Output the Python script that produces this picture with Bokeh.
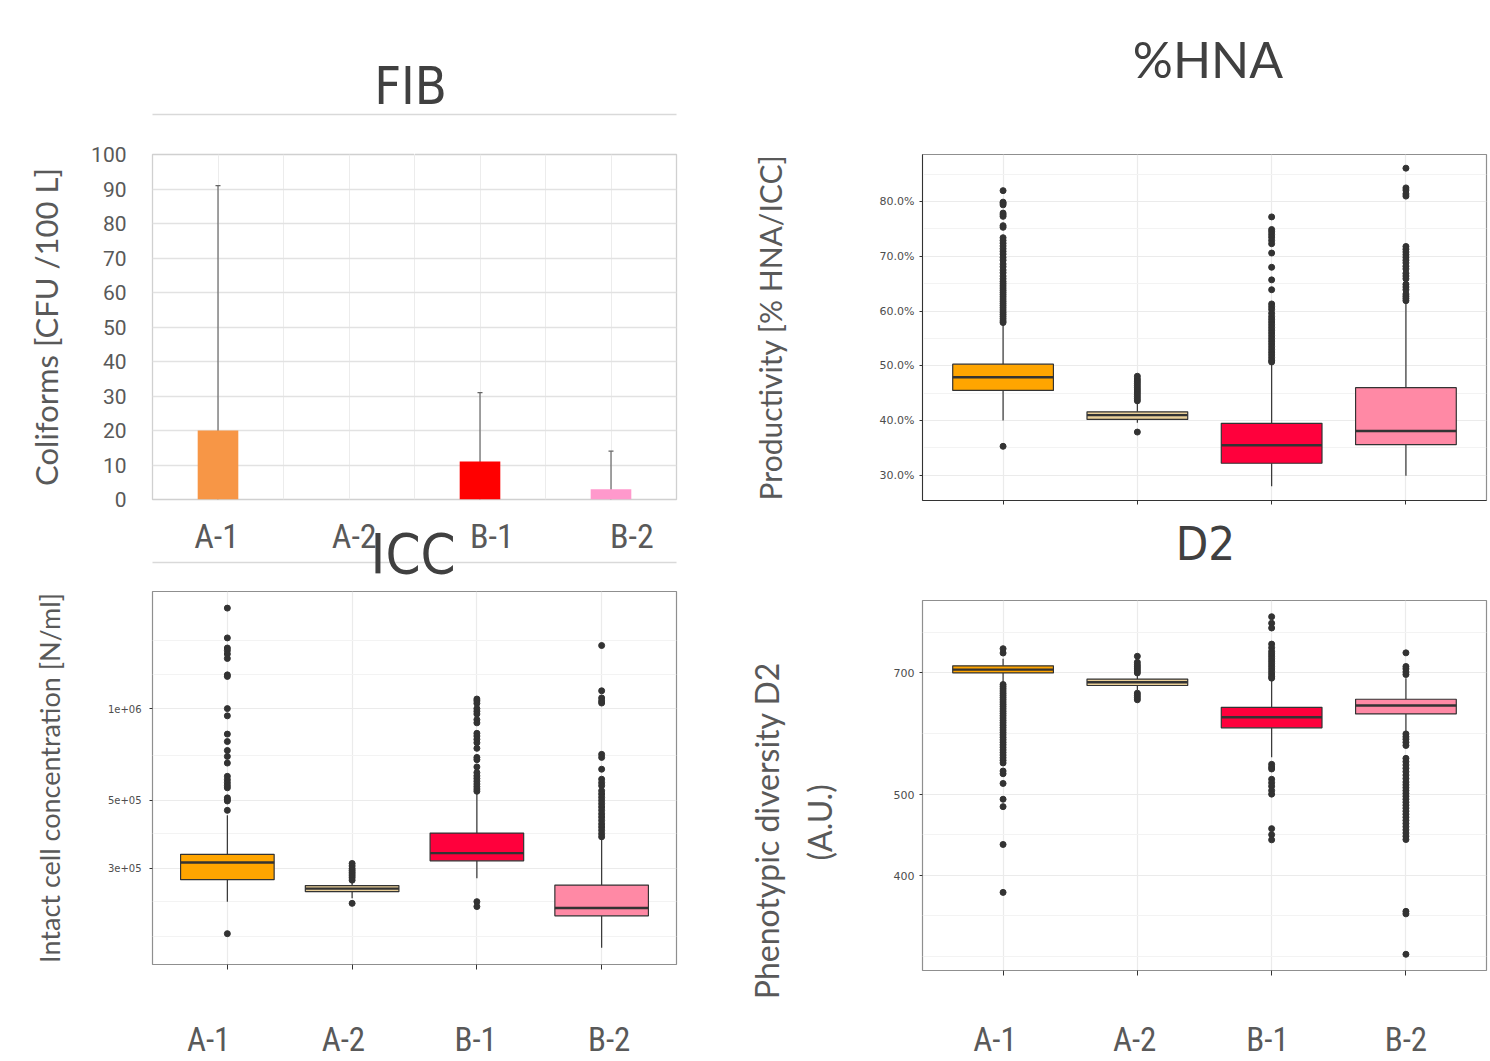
from bokeh.plotting import figure
from bokeh.models import (Range1d, FixedTicker, Whisker, TeeHead, PrintfTickFormatter,
                          ColumnDataSource, LinearAxis, CustomJSTickFormatter)
from bokeh.layouts import row, column
from bokeh.embed import file_html
from bokeh.resources import INLINE

# ---------------- data ----------------
CATS = ["A-1", "A-2", "B-1", "B-2"]

FIB_MEAN = [20, 0, 11, 3]
FIB_UPPER = [91, 0, 31, 14]
FIB_TICKS = [0, 10, 20, 30, 40, 50, 60, 70, 80, 90, 100]
FIB_COLORS = ["#F79646", "#F79646", "#FF0000", "#FF99CC"]

BOX_COLORS = ["#FFA500", "#E9CF98", "#FF003C", "#FF89A5"]

HNA_LOW = [40.0, 39.6, 28.0, 29.9]
HNA_Q1 = [45.5, 40.2, 32.2, 35.6]
HNA_MED = [47.9, 41.0, 35.5, 38.1]
HNA_Q3 = [50.3, 41.6, 39.5, 46.0]
HNA_HIGH = [57.5, 43.3, 50.4, 61.5]
HNA_OUT = [
    [82.0, 79.9, 79.7, 79.4, 77.9, 77.6, 77.3, 75.6, 75.3, 73.4, 72.9, 72.4, 71.9, 71.4, 70.9,
     70.4, 69.8, 69.3, 68.6, 68.1, 67.5, 67.0, 66.4, 65.9, 65.4, 65.0, 64.6, 64.2, 63.8, 63.4,
     63.0, 62.6, 62.2, 61.8, 61.4, 61.0, 60.6, 60.2, 59.8, 59.4, 59.0, 58.6, 58.2, 57.9, 35.3],
    [48.1, 47.6, 47.2, 46.8, 46.4, 46.0, 45.6, 45.2, 44.8, 44.4, 44.0, 43.6, 37.9],
    [77.2, 74.9, 74.5, 74.0, 73.5, 72.9, 72.3, 70.6, 68.0, 65.7, 63.9, 61.3, 60.8, 60.3, 59.6,
     59.0, 58.5, 58.0, 57.5, 57.0, 56.5, 56.0, 55.5, 55.0, 54.5, 54.0, 53.5, 53.0, 52.5, 52.0,
     51.5, 51.0, 50.7],
    [86.1, 82.5, 82.1, 81.4, 81.0, 71.8, 71.3, 70.8, 70.3, 69.8, 69.3, 68.8, 68.2, 67.7, 66.9,
     66.4, 65.9, 64.9, 64.4, 63.9, 63.1, 62.7, 62.3, 61.9],
]
HNA_TICKS = [30, 40, 50, 60, 70, 80]
HNA_MINOR = [25, 35, 45, 55, 65, 75, 85]

ICC_LOW = [2.33e5, 2.39e5, 2.78e5, 1.644e5]
ICC_Q1 = [2.75e5, 2.513e5, 3.17e5, 2.094e5]
ICC_MED = [3.13e5, 2.57e5, 3.36e5, 2.22e5]
ICC_Q3 = [3.33e5, 2.63e5, 3.91e5, 2.64e5]
ICC_HIGH = [4.47e5, 2.70e5, 5.30e5, 3.75e5]
ICC_OUT = [
    [2.135e6, 1.705e6, 1.58e6, 1.55e6, 1.51e6, 1.46e6, 1.29e6, 1.275e6, 1.0e6, 9.47e5, 8.25e5,
     7.8e5, 7.29e5, 6.97e5, 6.63e5, 6.0e5, 5.85e5, 5.72e5, 5.6e5, 5.5e5, 5.1e5, 5.04e5, 4.98e5,
     4.64e5, 1.83e5],
    [3.108e5, 3.05e5, 2.99e5, 2.95e5, 2.91e5, 2.87e5, 2.83e5, 2.79e5, 2.74e5, 2.30e5],
    [1.075e6, 1.06e6, 1.04e6, 1.0e6, 9.8e5, 9.6e5, 9.2e5, 8.98e5, 8.3e5, 8.13e5, 7.93e5, 7.73e5,
     7.41e5, 6.92e5, 6.8e5, 6.44e5, 6.17e5, 6.02e5, 5.9e5, 5.78e5, 5.66e5, 5.55e5, 5.45e5,
     5.36e5, 2.33e5, 2.245e5],
    [1.61e6, 1.144e6, 1.084e6, 1.06e6, 1.043e6, 7.08e5, 6.92e5, 6.33e5, 5.87e5, 5.72e5, 5.59e5,
     5.38e5, 5.25e5, 5.12e5, 5.0e5, 4.88e5, 4.76e5, 4.64e5, 4.52e5, 4.41e5, 4.30e5, 4.19e5,
     4.09e5, 3.99e5, 3.89e5, 3.80e5],
]
ICC_TICKS = [3e5, 5e5, 1e6]
ICC_TICK_LABELS = ["3e+05", "5e+05", "1e+06"]
ICC_MINOR = [1.79e5, 2.33e5, 3.886e5, 7.04e5, 1.295e6, 1.678e6]

D2_LOW = [681, 668, 554.6, 592.8]
D2_Q1 = [700, 676.2, 601.6, 625.2]
D2_MED = [706.5, 682.3, 619.5, 640]
D2_Q3 = [714, 688.3, 636.6, 651]
D2_HIGH = [728, 695, 687, 690]
D2_OUT = [
    [748.5, 739.6, 678, 674, 670, 666, 662, 658, 654, 650, 646, 642, 638, 634, 630, 626, 622,
     618, 614, 610, 606, 602, 598, 594, 590, 586, 582, 578, 574, 570, 566, 562, 558, 554, 550,
     546, 534, 530, 516, 494, 484, 436, 382],
    [733, 721, 716, 712, 708, 704, 700, 662, 658, 654, 650],
    [817.6, 803, 792.5, 758, 750.6, 743, 738, 733, 728, 723, 718, 713, 708, 703, 698, 693, 690,
     544, 540, 537, 522, 517, 512, 506, 501, 455.5, 448, 441.6],
    [740, 712.6, 708, 702, 697, 591.6, 587, 583, 578, 573, 553, 548, 543, 538, 533, 528, 523,
     518, 514, 510, 506, 502, 498, 494, 490, 486, 482, 478, 474, 470, 466, 462, 458, 454, 450,
     446, 442, 362.5, 360, 322],
]
D2_TICKS = [400, 500, 700]
D2_TICK_LABELS = ["400", "500", "700"]
D2_MINOR = [320.3, 358.3, 448, 591.6, 783]

# label offsets of the category names (in category units)
FIB_LABEL_SHIFT = [-0.01, 0.04, 0.09, 0.16]
ICC_LABEL_SHIFT = [-0.15, -0.07, -0.01, 0.06]
D2_LABEL_SHIFT = [-0.06, -0.02, -0.03, 0.0]

# ---------------- style ----------------
CAT_FONT = "Roboto Condensed"
HEAD_FONT = "DejaVu Sans Condensed"
LAB = "Lato"
TICKF = "DejaVu Sans"
INK = "#333333"
GREY_TXT = "#595959"
TITLE_C = "#404040"
NB = "\u00a0"

XS = list(range(1, len(CATS) + 1))


def base_fig(w, h, mb, xr, yr, ytype="linear"):
    p = figure(width=w, height=h, x_range=xr, y_range=yr, y_axis_type=ytype,
               output_backend="svg", toolbar_location=None,
               min_border_left=mb[0], min_border_right=mb[1],
               min_border_top=mb[2], min_border_bottom=mb[3])
    p.background_fill_color = "white"
    p.border_fill_color = "white"
    return p


def label_formatter(shifts):
    return CustomJSTickFormatter(args=dict(labels=CATS, shifts=shifts), code="""
        for (let i = 0; i < labels.length; i++) {
            if (Math.abs(tick - (i + 1 + shifts[i])) < 1e-6) { return labels[i]; }
        }
        return "";
    """)


def no_ticks(ax):
    ax.major_tick_in = 0
    ax.minor_tick_out = 0
    ax.minor_tick_in = 0


def hide_labels(ax, standoff=0):
    ax.formatter = CustomJSTickFormatter(code="return '';")
    ax.major_label_text_font_size = "1px"
    ax.major_label_text_color = None
    ax.major_label_standoff = standoff


def spacer_axis(p, place, size):
    # an empty axis whose (white, invisible) tick reserves `size` pixels
    ax = LinearAxis(ticker=FixedTicker(ticks=[2.5]))
    hide_labels(ax)
    ax.major_tick_out = size
    no_ticks(ax)
    ax.axis_line_color = None
    ax.major_tick_line_color = "white"
    p.add_layout(ax, place)


def head_axis(p, place, x, text, font, size, standoff, line_color=None):
    ax = LinearAxis(ticker=FixedTicker(ticks=[x]),
                    formatter=CustomJSTickFormatter(args=dict(t=text), code="return t;"))
    ax.major_tick_out = 0
    no_ticks(ax)
    ax.major_tick_line_color = None
    ax.axis_line_color = line_color
    ax.axis_line_width = 1.3
    ax.major_label_standoff = standoff
    ax.major_label_text_font = font
    ax.major_label_text_font_size = f"{size}px"
    ax.major_label_text_color = TITLE_C
    p.add_layout(ax, place)


def draw_boxes(p, low, q1, med, q3, high, outs, pt=6):
    src = ColumnDataSource(dict(x=XS, low=low, q1=q1, med=med, q3=q3, high=high, color=BOX_COLORS,
                                left=[x - 0.375 for x in XS], right=[x + 0.375 for x in XS]))
    p.segment(x0="x", y0="q3", x1="x", y1="high", source=src, line_color=INK, line_width=1.2)
    p.segment(x0="x", y0="q1", x1="x", y1="low", source=src, line_color=INK, line_width=1.2)
    p.vbar(x="x", width=0.75, bottom="q1", top="q3", fill_color="color", line_color=INK,
           line_width=1.2, source=src)
    p.segment(x0="left", y0="med", x1="right", y1="med", source=src, line_color=INK, line_width=2.4)
    ox = [XS[i] for i, o in enumerate(outs) for _ in o]
    oy = [v for o in outs for v in o]
    p.scatter(ox, oy, size=pt, color=INK)


def style_box(p, yticks, yminor, tick_size, dark_axes=False, xtick=5):
    p.outline_line_color = "#8f8f8f"
    p.outline_line_width = 1.2
    p.xgrid.ticker = FixedTicker(ticks=XS)
    p.ygrid.ticker = FixedTicker(ticks=yticks, minor_ticks=yminor)
    p.xgrid.grid_line_color = "#ebebeb"
    p.ygrid.grid_line_color = "#ebebeb"
    p.ygrid.minor_grid_line_color = "#f3f3f3"
    p.xgrid.grid_line_width = 1.2
    p.ygrid.grid_line_width = 1.2
    ax = p.xaxis[0]
    ax.ticker = FixedTicker(ticks=XS)
    hide_labels(ax)
    ax.major_tick_out = xtick
    no_ticks(ax)
    ax.major_tick_line_color = INK
    ax.axis_line_color = INK if dark_axes else None
    ay = p.yaxis[0]
    ay.ticker = FixedTicker(ticks=yticks)
    ay.major_tick_out = 3
    no_ticks(ay)
    ay.major_tick_line_color = INK
    ay.axis_line_color = INK if dark_axes else None
    ay.major_label_text_font = TICKF
    ay.major_label_text_font_size = f"{tick_size}px"
    ay.major_label_text_color = "#4d4d4d"
    ay.major_label_standoff = 5
    ay.axis_label_text_font = LAB
    ay.axis_label_text_font_style = "normal"
    ay.axis_label_text_color = GREY_TXT


def add_cat_labels(p, shifts, standoff, size):
    ax = LinearAxis(ticker=FixedTicker(ticks=[x + s for x, s in zip(XS, shifts)]),
                    formatter=label_formatter(shifts))
    ax.major_tick_out = 0
    no_ticks(ax)
    ax.axis_line_color = None
    ax.major_label_standoff = standoff
    ax.major_label_text_font = CAT_FONT
    ax.major_label_text_font_size = f"{size}px"
    ax.major_label_text_color = GREY_TXT
    p.add_layout(ax, "below")


# ---------------- FIB (top left) ----------------
fib = base_fig(740, 590, (152, 64, 154, 91), Range1d(0.5, 4.5), Range1d(0, 100))
fib.vbar(x=XS, width=0.31, bottom=0, top=FIB_MEAN, fill_color=FIB_COLORS, line_color=None)
err = [i for i, u in enumerate(FIB_UPPER) if u > 0]
esrc = ColumnDataSource(dict(x=[XS[i] for i in err], lo=[0] * len(err), hi=[FIB_UPPER[i] for i in err]))
fib.add_layout(Whisker(source=esrc, base="x", lower="lo", upper="hi", line_color="#666666",
                       line_width=1.2, lower_head=None,
                       upper_head=TeeHead(size=5, line_color="#666666", line_width=1.2)))
fib.outline_line_color = "#d0d0d0"
fib.outline_line_width = 1.3
fib.xgrid.ticker = FixedTicker(ticks=[k / 2 for k in range(2, 9)])
fib.ygrid.ticker = FixedTicker(ticks=FIB_TICKS)
fib.xgrid.grid_line_color = "#ececec"
fib.ygrid.grid_line_color = "#e2e2e2"
fib.ygrid.grid_line_width = 1.3
fxa = fib.xaxis[0]
fxa.ticker = FixedTicker(ticks=[x + s for x, s in zip(XS, FIB_LABEL_SHIFT)])
fxa.formatter = label_formatter(FIB_LABEL_SHIFT)
fxa.major_tick_out = 0
no_ticks(fxa)
fxa.axis_line_color = None
fxa.major_label_standoff = 16
fxa.major_label_text_font = CAT_FONT
fxa.major_label_text_font_size = "34px"
fxa.major_label_text_color = GREY_TXT
fya = fib.yaxis[0]
fya.ticker = FixedTicker(ticks=FIB_TICKS)
fya.major_tick_out = 0
no_ticks(fya)
fya.axis_line_color = None
fya.major_label_standoff = 26
fya.major_label_text_font = "Roboto"
fya.major_label_text_font_size = "21px"
fya.major_label_text_color = GREY_TXT
fya.axis_label = "Coliforms [CFU /100 L]"
fya.axis_label_text_font = LAB
fya.axis_label_text_font_style = "normal"
fya.axis_label_text_font_size = "31px"
fya.axis_label_text_color = GREY_TXT
fya.axis_label_standoff = 23
# heading of the FIB panel with its separator line (first added = nearest the frame)
spacer_axis(fib, "above", 40)
head_axis(fib, "above", 2.47, "FIB", HEAD_FONT, 52, -1, line_color="#d9d9d9")
# heading of the ICC panel (drawn across the FIB category labels, as in the source)
spacer_axis(fib, "below", 4)
head_axis(fib, "below", 2.49, "ICC", HEAD_FONT, 56, -42, line_color="#d9d9d9")

# ---------------- ICC (bottom left) ----------------
icc = base_fig(740, 471, (150, 61, 1, 96), Range1d(0.4, 4.6), Range1d(1.45e5, 2.42e6), "log")
draw_boxes(icc, ICC_LOW, ICC_Q1, ICC_MED, ICC_Q3, ICC_HIGH, ICC_OUT)
style_box(icc, ICC_TICKS, ICC_MINOR, 10)
icc.yaxis[0].major_label_standoff = 8
icc.yaxis[0].major_label_overrides = {t: s for t, s in zip(ICC_TICKS, ICC_TICK_LABELS)}
icc.yaxis[0].axis_label = "Intact cell concentration [N/ml]"
icc.yaxis[0].axis_label_text_font_size = "27px"
icc.yaxis[0].axis_label_standoff = 39
add_cat_labels(icc, ICC_LABEL_SHIFT, 50, 33)

# ---------------- %HNA (top right) ----------------
hna = base_fig(750, 512, (181, 4, 154, 12), Range1d(0.4, 4.6), Range1d(25.4, 88.6))
draw_boxes(hna, HNA_LOW, HNA_Q1, HNA_MED, HNA_Q3, HNA_HIGH, HNA_OUT)
style_box(hna, HNA_TICKS, HNA_MINOR, 11, dark_axes=True, xtick=4)
hna.yaxis[0].formatter = PrintfTickFormatter(format="%.1f%%")
hna.yaxis[0].axis_label = NB + "Productivity  [% HNA/ICC]"
hna.yaxis[0].axis_label_text_font_size = "30px"
hna.yaxis[0].axis_label_standoff = 89
head_axis(hna, "above", 2.526, "%HNA", LAB, 50, 66)

# ---------------- D2 (bottom right) ----------------
d2 = base_fig(750, 549, (182, 4, 88, 90), Range1d(0.4, 4.6), Range1d(307.9, 855), "log")
draw_boxes(d2, D2_LOW, D2_Q1, D2_MED, D2_Q3, D2_HIGH, D2_OUT)
style_box(d2, D2_TICKS, D2_MINOR, 11)
d2.yaxis[0].major_label_overrides = {t: s for t, s in zip(D2_TICKS, D2_TICK_LABELS)}
d2.yaxis[0].axis_label = "Phenotypic  diversity  D2" + NB * 9 + "\n(A.U.)" + NB * 9
d2.yaxis[0].axis_label_text_font_size = "32px"
d2.yaxis[0].axis_label_text_line_height = 1.34
d2.yaxis[0].axis_label_standoff = 52
add_cat_labels(d2, D2_LABEL_SHIFT, 44, 33)
head_axis(d2, "above", 2.507, "D2", HEAD_FONT, 47, 30)

layout = row(column(fib, icc), column(hna, d2))
open("out.html", "w").write(file_html(layout, INLINE))
